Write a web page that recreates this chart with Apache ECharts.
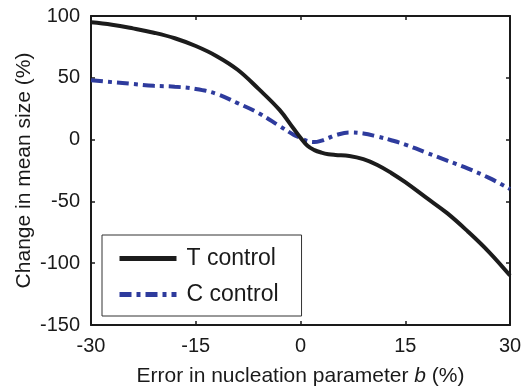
<!DOCTYPE html>
<html>
<head>
<meta charset="utf-8">
<script src="https://cdn.jsdelivr.net/npm/echarts@6/dist/echarts.min.js"></script>
<style>
  html, body { margin: 0; padding: 0; background: #fff; }
  #chart { width: 522px; height: 386px; }
</style>
</head>
<body>
<div id="chart"></div>
<script>
// error in nucleation parameter b (%)
const errB = [-30, -27, -24, -21, -18, -15, -12, -9, -6, -3, -1, 0, 1, 2, 3, 4, 5, 7, 9, 11, 13, 15, 18, 21, 24, 27, 30];
// change in mean size (%)
const tControl = [95, 93, 90, 86.5, 82, 75.7, 67.5, 56.5, 41, 24, 9, 1.5, -5, -8.5, -10.5, -11.8, -12.4, -13.2, -15.8, -20.5, -27, -34.5, -47, -59.5, -74.5, -91, -110];
const cControl = [48, 46.5, 45, 43.5, 42.8, 41, 37, 29.5, 21.5, 11, 4, 1.5, -1.2, -2, -0.8, 1.3, 3.5, 5.8, 5, 2.5, -0.5, -4, -10.5, -17, -23.5, -31, -40];
const xTicks = [-30, -15, 0, 15, 30];
const yTicks = [-150, -100, -50, 0, 50, 100];

const font = "'Liberation Sans', Arial, sans-serif";
const pairs = (ys) => errB.map((x, i) => [x, ys[i]]);

const chart = echarts.init(document.getElementById("chart"));

const axisCommon = {
  axisLine: { show: true, onZero: false, lineStyle: { color: "#1a1a1a", width: 2 } },
  axisTick: { show: true, inside: true, length: 4, lineStyle: { color: "#1a1a1a", width: 1.5 } },
  splitLine: { show: false },
  nameMoveOverlap: false,
};

chart.setOption({
  animation: false,
  backgroundColor: "#fff",
  grid: { left: 91, right: 12, top: 16, bottom: 61, outerBoundsMode: "none" },
  xAxis: [
    {
      type: "value",
      min: xTicks[0],
      max: xTicks[xTicks.length - 1],
      interval: 15,
      ...axisCommon,
      axisLabel: { color: "#1a1a1a", fontSize: 20, fontFamily: font, margin: 11 },
      name: "Error in nucleation parameter {i|b} (%)",
      nameLocation: "middle",
      nameGap: 41,
      nameTextStyle: {
        color: "#1a1a1a", fontSize: 21, fontFamily: font,
        rich: { i: { fontStyle: "italic", fontSize: 21, fontFamily: font, color: "#1a1a1a" } },
      },
    },
    {
      type: "value",
      position: "top",
      min: xTicks[0],
      max: xTicks[xTicks.length - 1],
      interval: 15,
      ...axisCommon,
      axisLabel: { show: false },
    },
  ],
  yAxis: [
    {
      type: "value",
      min: yTicks[0],
      max: yTicks[yTicks.length - 1],
      interval: 50,
      ...axisCommon,
      axisLabel: { color: "#1a1a1a", fontSize: 20, fontFamily: font, margin: 11 },
      name: "Change in mean size (%)",
      nameLocation: "middle",
      nameGap: 56,
      nameTextStyle: { color: "#1a1a1a", fontSize: 21, fontFamily: font },
    },
    {
      type: "value",
      position: "right",
      min: yTicks[0],
      max: yTicks[yTicks.length - 1],
      interval: 50,
      ...axisCommon,
      axisLabel: { show: false },
    },
  ],
  legend: {
    orient: "vertical",
    left: 102,
    top: 235,
    itemWidth: 57,
    itemHeight: 20,
    itemGap: 13,
    padding: [12, 23, 10, 15],
    borderColor: "#333",
    borderWidth: 1,
    backgroundColor: "#fff",
    itemStyle: { opacity: 0 },
    lineStyle: { width: 5 },
    textStyle: { color: "#1a1a1a", fontSize: 23, lineHeight: 20, fontFamily: font, padding: [0, 0, 0, 5] },
    data: ["T control", "C control"],
  },
  series: [
    {
      name: "T control",
      type: "line",
      data: pairs(tControl),
      smooth: 0.4,
      showSymbol: false,
      symbol: "none",
      z: 3,
      lineStyle: { color: "#1c1c1c", width: 4 },
      itemStyle: { color: "#1c1c1c" },
    },
    {
      name: "C control",
      type: "line",
      data: pairs(cControl),
      smooth: 0.4,
      showSymbol: false,
      symbol: "none",
      z: 2,
      lineStyle: { color: "#2e3b9d", width: 4, type: [12, 5, 4, 5] },
      itemStyle: { color: "#2e3b9d" },
    },
  ],
});
</script>
</body>
</html>
